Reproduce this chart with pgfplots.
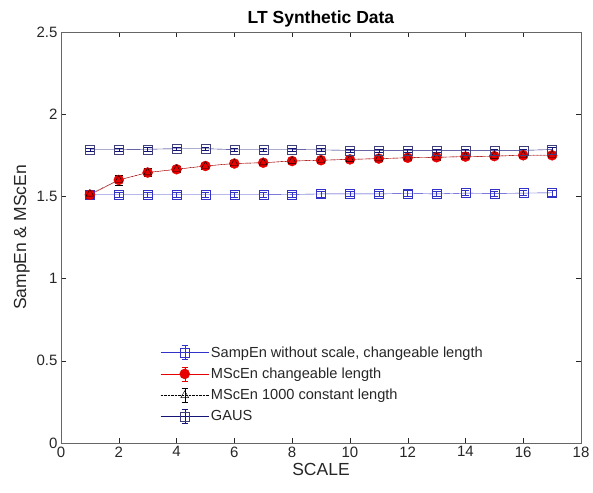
\documentclass[border=0pt]{standalone}
\usepackage{pgfplots}
\pgfplotsset{compat=1.18}
\usepackage{fontspec}
\setmainfont{Liberation Sans}
\definecolor{axgray}{RGB}{38,38,38}
\definecolor{sblue}{RGB}{50,50,200}
\definecolor{navy}{RGB}{20,20,120}
\definecolor{mred}{RGB}{230,0,0}
\pgfplotsset{
  ebleg/.style={legend image code/.code={
    \draw[##1] (0pt,0pt) -- (48pt,0pt);
    \draw[##1, solid, #1] (24pt,-7pt) -- (24pt,7pt) (21pt,-7pt) -- (27pt,-7pt) (21pt,7pt) -- (27pt,7pt);
    \draw[##1, only marks] plot coordinates {(24pt,0pt)};
  }},
}
\begin{document}
\begin{tikzpicture}
\begin{axis}[name=ax,
  scale only axis, width=520pt, height=411pt,
  xmin=0, xmax=18, ymin=0, ymax=2.5,
  xtick={0,2,...,18}, ytick={0,0.5,...,2.5},
  yticklabel style={/pgf/number format/fixed},
  /pgf/number format/assume math mode=true,
  tick align=inside, major tick length=5pt,
  axis line style={draw=gray!80!black},
  tick style={draw=axgray},
  ticklabel style={font=\fontsize{15}{17}\selectfont, text=axgray},
  xlabel={SCALE}, ylabel={SampEn \& MScEn},
  label style={font=\fontsize{17.5}{19}\selectfont, text=axgray},
  xlabel style={yshift=1pt},
  title={\textbf{LT Synthetic Data}},
  title style={font=\fontsize{17.5}{19}\selectfont, yshift=-5pt},
  legend style={at={(0.191,0.245)}, anchor=north west, draw=none, fill=none,
    font=\fontsize{14.6}{16}\selectfont, row sep=5.3pt, text=axgray,
    inner xsep=0pt},
  legend cell align=left,
  error bars/y dir=both, error bars/y explicit,
  error bars/error mark options={rotate=90, mark size=4pt},
]
\addplot[sblue, mark=square, mark size=4.5pt, mark options={draw=sblue, fill=white, solid},
  error bars/error bar style={sblue}, ebleg={sblue}]
coordinates {
(1,1.51) +- (0,0.015) (2,1.51) +- (0,0.015) (3,1.51) +- (0,0.015) (4,1.51) +- (0,0.015)
(5,1.51) +- (0,0.015) (6,1.51) +- (0,0.015) (7,1.51) +- (0,0.015) (8,1.512) +- (0,0.015)
(9,1.515) +- (0,0.018) (10,1.515) +- (0,0.015) (11,1.515) +- (0,0.015) (12,1.518) +- (0,0.018)
(13,1.515) +- (0,0.015) (14,1.52) +- (0,0.015) (15,1.518) +- (0,0.015) (16,1.52) +- (0,0.015)
(17,1.522) +- (0,0.018)};
\addlegendentry{SampEn without scale, changeable length}
\addplot[mred, mark=*, mark size=5pt, mark options={fill=mred, draw=mred, solid},
  error bars/error bar style={black}, ebleg={mred}]
coordinates {
(1,1.51) +- (0,0.02) (2,1.60) +- (0,0.03) (3,1.645) +- (0,0.025) (4,1.665) +- (0,0.02)
(5,1.685) +- (0,0.018) (6,1.70) +- (0,0.018) (7,1.705) +- (0,0.018) (8,1.715) +- (0,0.016)
(9,1.72) +- (0,0.016) (10,1.725) +- (0,0.016) (11,1.73) +- (0,0.015) (12,1.735) +- (0,0.015)
(13,1.738) +- (0,0.015) (14,1.742) +- (0,0.015) (15,1.745) +- (0,0.013) (16,1.75) +- (0,0.013)
(17,1.75) +- (0,0.013)};
\addlegendentry{MScEn changeable length}
\addplot[black, densely dotted, mark=triangle, mark size=4.5pt, mark options={solid, draw=black, fill=none},
  error bars/error bar style={black, solid}, ebleg={black}]
coordinates {
(1,1.515) +- (0,0.02) (2,1.60) +- (0,0.03) (3,1.645) +- (0,0.025) (4,1.665) +- (0,0.02)
(5,1.685) +- (0,0.018) (6,1.70) +- (0,0.018) (7,1.705) +- (0,0.018) (8,1.715) +- (0,0.016)
(9,1.72) +- (0,0.016) (10,1.725) +- (0,0.016) (11,1.73) +- (0,0.015) (12,1.735) +- (0,0.015)
(13,1.738) +- (0,0.015) (14,1.742) +- (0,0.015) (15,1.745) +- (0,0.013) (16,1.75) +- (0,0.013)
(17,1.752) +- (0,0.013)};
\addlegendentry{MScEn 1000 constant length}
\addplot[navy, mark=square, mark size=4.5pt, mark options={draw=gray!40!navy, fill=none, solid},
  error bars/error bar style={navy}, ebleg={navy}]
coordinates {
(1,1.785) +- (0,0.01) (2,1.785) +- (0,0.01) (3,1.787) +- (0,0.01) (4,1.79) +- (0,0.01)
(5,1.79) +- (0,0.01) (6,1.785) +- (0,0.01) (7,1.785) +- (0,0.01) (8,1.785) +- (0,0.01)
(9,1.783) +- (0,0.01) (10,1.78) +- (0,0.01) (11,1.78) +- (0,0.01) (12,1.78) +- (0,0.01)
(13,1.78) +- (0,0.01) (14,1.78) +- (0,0.01) (15,1.78) +- (0,0.01) (16,1.78) +- (0,0.01)
(17,1.785) +- (0,0.015)};
\addlegendentry{GAUS}
\end{axis}
\pgfresetboundingbox
\useasboundingbox ([xshift=-61pt,yshift=-49pt]ax.south west) rectangle ([xshift=12pt,yshift=32pt]ax.north east);
\end{tikzpicture}
\end{document}
